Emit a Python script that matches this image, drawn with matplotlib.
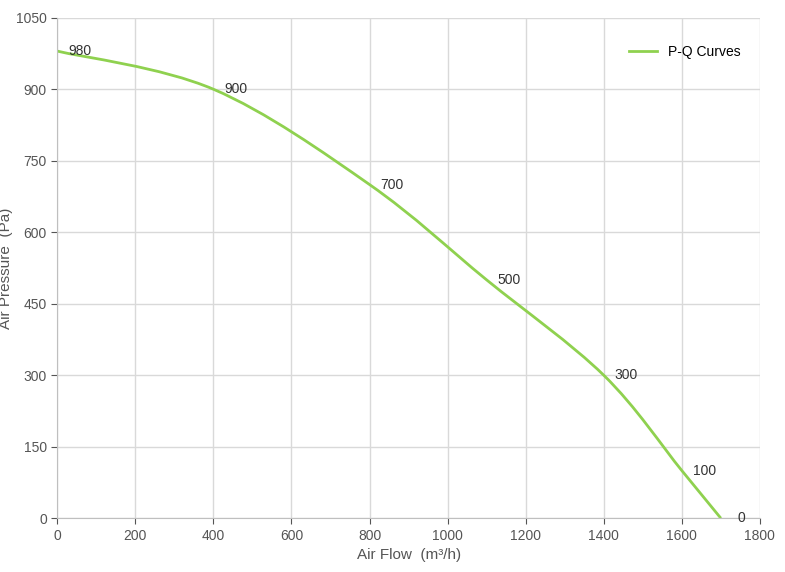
import matplotlib.pyplot as plt
from matplotlib.path import Path
from matplotlib.patches import PathPatch
from matplotlib.lines import Line2D

plt.rcParams['font.family'] = ['Liberation Sans', 'DejaVu Sans']

flow = [0, 400, 800, 1100, 1400, 1600, 1700]
pressure = [980, 900, 700, 500, 300, 100, 0]
labels = ['980', '900', '700', '500', '300', '100', '0']

green = '#8fd14f'

fig = plt.figure(figsize=(7.85, 5.72), dpi=100)
ax = fig.add_axes([0.073, 0.094, 0.895, 0.875])

# smooth curve through the points (Catmull-Rom as cubic Bezier segments)
pts = list(zip(flow, pressure))
verts = [pts[0]]
codes = [Path.MOVETO]
for i in range(len(pts) - 1):
    p0 = pts[i - 1] if i > 0 else pts[i]
    p1, p2 = pts[i], pts[i + 1]
    p3 = pts[i + 2] if i + 2 < len(pts) else pts[i + 1]
    c1 = (p1[0] + (p2[0] - p0[0]) / 6, p1[1] + (p2[1] - p0[1]) / 6)
    c2 = (p2[0] - (p3[0] - p1[0]) / 6, p2[1] - (p3[1] - p1[1]) / 6)
    verts += [c1, c2, p2]
    codes += [Path.CURVE4] * 3
ax.add_patch(PathPatch(Path(verts, codes), fill=False, edgecolor=green, lw=2))

for x, y, t in zip(flow, pressure, labels):
    ax.annotate(t, (x, y), xytext=(8, 0) if y > 0 else (12, 0),
                textcoords='offset points', fontsize=10, color='#333333',
                va='center')

ax.set_xlim(0, 1800)
ax.set_ylim(0, 1050)
ax.set_xticks(range(0, 1801, 200))
ax.set_yticks(range(0, 1051, 150))
ax.grid(True, color='#d9d9d9', lw=1)
ax.set_axisbelow(True)
for s in ['top', 'right']:
    ax.spines[s].set_visible(False)
for s in ['left', 'bottom']:
    ax.spines[s].set_color('#bfbfbf')
ax.tick_params(colors='#555555', labelsize=10, length=4)
ax.set_xlabel('Air Flow  (m³/h)', fontsize=11, color='#555555', labelpad=4)
ax.set_ylabel('Air Pressure  (Pa)', fontsize=11, color='#555555', labelpad=2)

ax.legend([Line2D([], [], color=green, lw=2)], ['P-Q Curves'], loc='upper right',
          frameon=False, fontsize=10, bbox_to_anchor=(0.99, 0.97))

fig.savefig('out.png', dpi=100)
